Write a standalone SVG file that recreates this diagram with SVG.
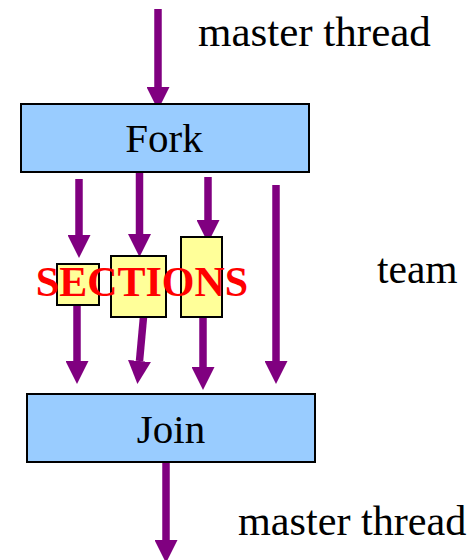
<svg xmlns="http://www.w3.org/2000/svg" width="475" height="560" viewBox="0 0 475 560">
  <style>
    .bar { fill: #99CCFF; stroke: #000; stroke-width: 2; }
    .sec { fill: #FFFF99; stroke: #000; stroke-width: 2; }
    .flow { stroke: #800080; stroke-width: 7.5; fill: none; marker-end: url(#head); }
  </style>
  <defs>
    <marker id="head" markerUnits="userSpaceOnUse" markerWidth="23" markerHeight="23" refX="0" refY="11.5" orient="auto" viewBox="0 0 23 23">
      <path d="M0,0 L23,11.5 L0,23 Z" fill="#800080"/>
    </marker>
  </defs>

  <rect width="475" height="560" fill="#fff"/>

  <!-- thread flow -->
  <g id="connectors">
    <line class="flow" x1="158" y1="9" x2="158" y2="87"/>
    <line class="flow" x1="79" y1="179" x2="79" y2="235"/>
    <line class="flow" x1="139.5" y1="173" x2="139.5" y2="234"/>
    <line class="flow" x1="208" y1="177" x2="208" y2="220"/>
    <line class="flow" x1="276" y1="185" x2="276" y2="361"/>
    <line class="flow" x1="77" y1="305" x2="77" y2="361"/>
    <line class="flow" x1="143.5" y1="317" x2="139.5" y2="361"/>
    <line class="flow" x1="203" y1="317" x2="203" y2="367"/>
    <line class="flow" x1="166" y1="462" x2="166" y2="540"/>
  </g>

  <g id="fork">
    <rect class="bar" x="21" y="104" width="288" height="68"/>
    <text x="164" y="152" font-size="41" text-anchor="middle" font-family="Liberation Serif, serif">Fork</text>
  </g>

  <g id="section1">
    <rect class="sec" x="57" y="264" width="42" height="41"/>
  </g>
  <g id="section2">
    <rect class="sec" x="111" y="256" width="55" height="61"/>
  </g>
  <g id="section3">
    <rect class="sec" x="181" y="237" width="41" height="80"/>
  </g>

  <g id="sections-label">
    <text x="142" y="296" font-size="42" font-weight="bold" fill="#FF0000" text-anchor="middle" font-family="Liberation Serif, serif">SECTIONS</text>
  </g>

  <g id="join">
    <rect class="bar" x="27" y="394" width="288" height="68"/>
    <text x="171" y="443" font-size="41" text-anchor="middle" font-family="Liberation Serif, serif">Join</text>
  </g>

  <g id="labels">
    <text x="198" y="46" font-size="43" font-family="Liberation Serif, serif">master thread</text>
    <text x="377" y="283" font-size="41.5" font-family="Liberation Serif, serif">team</text>
    <text x="238" y="535" font-size="42.2" font-family="Liberation Serif, serif">master thread</text>
  </g>
</svg>
